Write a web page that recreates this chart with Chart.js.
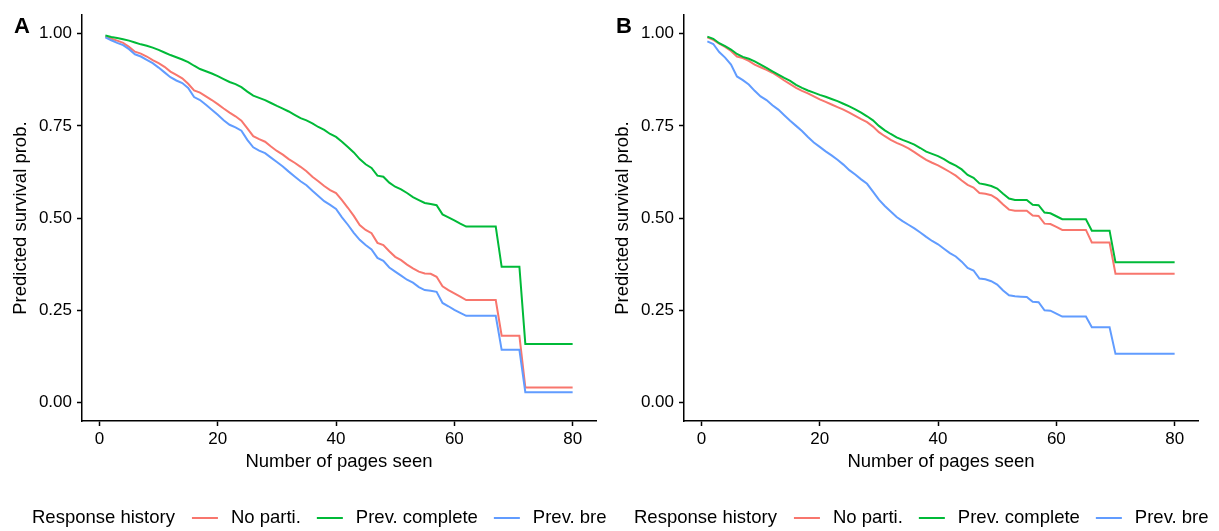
<!DOCTYPE html>
<html>
<head>
<meta charset="utf-8">
<script src="https://cdn.jsdelivr.net/npm/chart.js@4.4.1/dist/chart.umd.min.js"></script>
<style>
  html, body { margin: 0; padding: 0; background: #fff; }
  body { width: 1219px; height: 531px; position: relative; overflow: hidden; }
  .panel { position: absolute; top: 0; }
  #panelA { left: 0; }
  #panelB { left: 602px; }
</style>
</head>
<body>
<div class="panel" id="panelA"><canvas id="chart-a" width="609" height="531"></canvas></div>
<div class="panel" id="panelB"><canvas id="chart-b" width="617" height="531"></canvas></div>
<script>
// pages seen (x values)
const pages = [1, 2, 3, 4, 5, 6, 7, 8, 9, 10, 11, 12, 13, 14, 15, 16, 17, 18, 19, 20,
  21, 22, 23, 24, 25, 26, 27, 28, 29, 30, 31, 32, 33, 34, 35, 36, 37, 38, 39, 40,
  41, 42, 43, 44, 45, 46, 47, 48, 49, 50, 51, 52, 53, 54, 55, 56, 57, 58, 59, 60,
  61, 62, 63, 64, 65, 66, 67, 68, 69, 70, 71, 72, 73, 74, 75, 76, 77, 78, 79, 80];

const seriesNames = ['No parti.', 'Prev. complete', 'Prev. bre'];
const seriesColors = ['#F8766D', '#00BA38', '#619CFF'];
const legendTitle = 'Response history';

const xTicks = [0, 20, 40, 60, 80];
const yTicks = [0, 0.25, 0.5, 0.75, 1];

// Panel A
const aNone = [0.992, 0.986, 0.981, 0.975, 0.964, 0.951, 0.946, 0.938, 0.928, 0.920,
  0.910, 0.897, 0.888, 0.879, 0.864, 0.846, 0.840, 0.830, 0.820, 0.809,
  0.797, 0.786, 0.776, 0.764, 0.743, 0.722, 0.714, 0.707, 0.694, 0.682,
  0.672, 0.660, 0.650, 0.639, 0.627, 0.612, 0.600, 0.587, 0.576, 0.568,
  0.549, 0.528, 0.506, 0.481, 0.468, 0.459, 0.433, 0.427, 0.410, 0.395,
  0.386, 0.374, 0.364, 0.355, 0.350, 0.349, 0.341, 0.315, 0.305, 0.296,
  0.287, 0.278, 0.278, 0.278, 0.278, 0.278, 0.278, 0.181, 0.181, 0.181,
  0.181, 0.041, 0.041, 0.041, 0.041, 0.041, 0.041, 0.041, 0.041, 0.041];
const aComplete = [0.995, 0.991, 0.988, 0.985, 0.981, 0.976, 0.971, 0.967, 0.962, 0.956,
  0.949, 0.942, 0.936, 0.930, 0.923, 0.913, 0.904, 0.898, 0.892, 0.885,
  0.877, 0.869, 0.863, 0.855, 0.843, 0.832, 0.826, 0.820, 0.812, 0.804,
  0.797, 0.789, 0.780, 0.771, 0.765, 0.757, 0.747, 0.739, 0.728, 0.720,
  0.707, 0.693, 0.678, 0.660, 0.646, 0.636, 0.615, 0.612, 0.596, 0.585,
  0.578, 0.568, 0.557, 0.549, 0.541, 0.538, 0.535, 0.510, 0.502, 0.494,
  0.485, 0.477, 0.477, 0.477, 0.477, 0.477, 0.477, 0.368, 0.368, 0.368,
  0.368, 0.159, 0.159, 0.159, 0.159, 0.159, 0.159, 0.159, 0.159, 0.159];
const aBreak = [0.990, 0.982, 0.975, 0.969, 0.958, 0.944, 0.938, 0.929, 0.920, 0.908,
  0.895, 0.882, 0.873, 0.866, 0.853, 0.828, 0.820, 0.807, 0.794, 0.780,
  0.765, 0.753, 0.746, 0.737, 0.712, 0.692, 0.683, 0.676, 0.664, 0.652,
  0.640, 0.626, 0.613, 0.600, 0.589, 0.574, 0.560, 0.546, 0.536, 0.525,
  0.502, 0.482, 0.460, 0.441, 0.427, 0.415, 0.392, 0.384, 0.366, 0.355,
  0.344, 0.333, 0.325, 0.313, 0.305, 0.303, 0.300, 0.270, 0.261, 0.251,
  0.243, 0.235, 0.235, 0.235, 0.235, 0.235, 0.235, 0.143, 0.143, 0.143,
  0.143, 0.028, 0.028, 0.028, 0.028, 0.028, 0.028, 0.028, 0.028, 0.028];

// Panel B
const bNone = [0.990, 0.983, 0.973, 0.964, 0.953, 0.938, 0.934, 0.926, 0.916, 0.909,
  0.902, 0.894, 0.884, 0.873, 0.863, 0.853, 0.845, 0.838, 0.830, 0.822,
  0.815, 0.808, 0.801, 0.794, 0.786, 0.777, 0.768, 0.760, 0.748, 0.733,
  0.722, 0.712, 0.704, 0.697, 0.689, 0.679, 0.668, 0.658, 0.650, 0.643,
  0.634, 0.625, 0.615, 0.602, 0.590, 0.583, 0.568, 0.566, 0.562, 0.552,
  0.537, 0.523, 0.520, 0.520, 0.520, 0.507, 0.506, 0.485, 0.484, 0.476,
  0.468, 0.468, 0.468, 0.468, 0.468, 0.434, 0.434, 0.434, 0.434, 0.349,
  0.349, 0.349, 0.349, 0.349, 0.349, 0.349, 0.349, 0.349, 0.349, 0.349];
const bComplete = [0.992, 0.986, 0.974, 0.966, 0.957, 0.945, 0.937, 0.932, 0.925, 0.916,
  0.907, 0.898, 0.889, 0.880, 0.872, 0.861, 0.853, 0.846, 0.840, 0.834,
  0.829, 0.823, 0.817, 0.810, 0.803, 0.795, 0.786, 0.776, 0.765, 0.750,
  0.738, 0.728, 0.719, 0.712, 0.706, 0.699, 0.690, 0.680, 0.674, 0.668,
  0.660, 0.650, 0.642, 0.632, 0.617, 0.609, 0.594, 0.591, 0.587, 0.580,
  0.566, 0.553, 0.549, 0.549, 0.549, 0.536, 0.535, 0.515, 0.513, 0.505,
  0.497, 0.497, 0.497, 0.497, 0.497, 0.466, 0.466, 0.466, 0.466, 0.380,
  0.380, 0.380, 0.380, 0.380, 0.380, 0.380, 0.380, 0.380, 0.380, 0.380];
const bBreak = [0.979, 0.972, 0.950, 0.935, 0.916, 0.884, 0.874, 0.862, 0.845, 0.830,
  0.820, 0.806, 0.794, 0.779, 0.764, 0.750, 0.736, 0.720, 0.705, 0.693,
  0.681, 0.670, 0.658, 0.645, 0.630, 0.618, 0.605, 0.593, 0.572, 0.550,
  0.533, 0.518, 0.503, 0.492, 0.482, 0.472, 0.461, 0.449, 0.438, 0.429,
  0.417, 0.405, 0.396, 0.382, 0.365, 0.358, 0.336, 0.334, 0.329, 0.320,
  0.304, 0.291, 0.288, 0.287, 0.286, 0.273, 0.272, 0.250, 0.249, 0.241,
  0.233, 0.233, 0.233, 0.233, 0.233, 0.204, 0.204, 0.204, 0.204, 0.132,
  0.132, 0.132, 0.132, 0.132, 0.132, 0.132, 0.132, 0.132, 0.132, 0.132];

const FONT = '"Liberation Sans", Arial, Helvetica, sans-serif';
const AXIS_RIGHT = 596;

function ggLegend() {
  return {
    id: 'ggLegend',
    afterDraw(chart) {
      const c = chart.ctx;
      c.save();
      c.font = '18.5px ' + FONT;
      c.textBaseline = 'middle';
      c.textAlign = 'left';
      c.fillStyle = '#000';
      const y = 518;
      let x = 32;
      c.fillText(legendTitle, x, y);
      x += c.measureText(legendTitle).width + 17;
      seriesNames.forEach((name, i) => {
        c.strokeStyle = seriesColors[i];
        c.lineWidth = 2;
        c.beginPath();
        c.moveTo(x, y);
        c.lineTo(x + 26, y);
        c.stroke();
        x += 39;
        c.fillText(name, x, y);
        x += c.measureText(name).width + 16;
      });
      c.restore();
    }
  };
}

function panelLabel(letter) {
  return {
    id: 'panelLabel',
    afterDraw(chart) {
      const c = chart.ctx;
      c.save();
      c.font = 'bold 22px ' + FONT;
      c.fillStyle = '#000';
      c.textBaseline = 'alphabetic';
      c.fillText(letter, 14, 33);
      c.restore();
    }
  };
}

function axisBase() {
  return {
    grid: { display: true, drawOnChartArea: false, drawTicks: true, tickLength: 5, tickColor: '#000', tickWidth: 1.5 },
    border: { display: true, color: '#000', width: 1.5 },
    ticks: { color: '#000', font: { family: FONT, size: 17 } }
  };
}

function createSurvivalPanel(id, letter, none, complete, brk) {
  const ctx = document.getElementById(id);
  if (!ctx) return;

  const series = [none, complete, brk];
  const datasets = series.map((vals, i) => ({
    label: seriesNames[i],
    data: pages.map((p, j) => ({ x: p, y: vals[j] })),
    borderColor: seriesColors[i],
    backgroundColor: seriesColors[i],
    borderWidth: 2,
    pointRadius: 0,
    tension: 0,
    fill: false,
    order: 2 - i
  }));

  new Chart(ctx, {
    type: 'line',
    data: { datasets },
    options: {
      responsive: false,
      animation: false,
      layout: { padding: { left: 0, right: ctx.width - AXIS_RIGHT, top: 15, bottom: 58 } },
      plugins: { legend: { display: false }, tooltip: { enabled: false } },
      scales: {
        x: {
          ...axisBase(),
          type: 'linear',
          min: -2.95,
          max: 83.95,
          afterBuildTicks: s => { s.ticks = xTicks.map(v => ({ value: v })); },
          afterFit: s => { s.height = 52; },
          ticks: { ...axisBase().ticks, padding: 3, maxRotation: 0, callback: v => String(v) },
          title: { display: true, text: 'Number of pages seen', color: '#000', font: { family: FONT, size: 18.5 }, padding: { top: 0, bottom: 0 } }
        },
        y: {
          ...axisBase(),
          type: 'linear',
          min: -0.05,
          max: 1.05,
          afterBuildTicks: s => { s.ticks = yTicks.map(v => ({ value: v })); },
          afterFit: s => { s.width = 82; },
          ticks: { ...axisBase().ticks, padding: 5, callback: v => Number(v).toFixed(2) },
          title: { display: true, text: 'Predicted survival prob.', color: '#000', font: { family: FONT, size: 18.5 }, padding: { top: 9.4, bottom: 0 } }
        }
      }
    },
    plugins: [ggLegend(), panelLabel(letter)]
  });
}

createSurvivalPanel('chart-a', 'A', aNone, aComplete, aBreak);
createSurvivalPanel('chart-b', 'B', bNone, bComplete, bBreak);
</script>
</body>
</html>
